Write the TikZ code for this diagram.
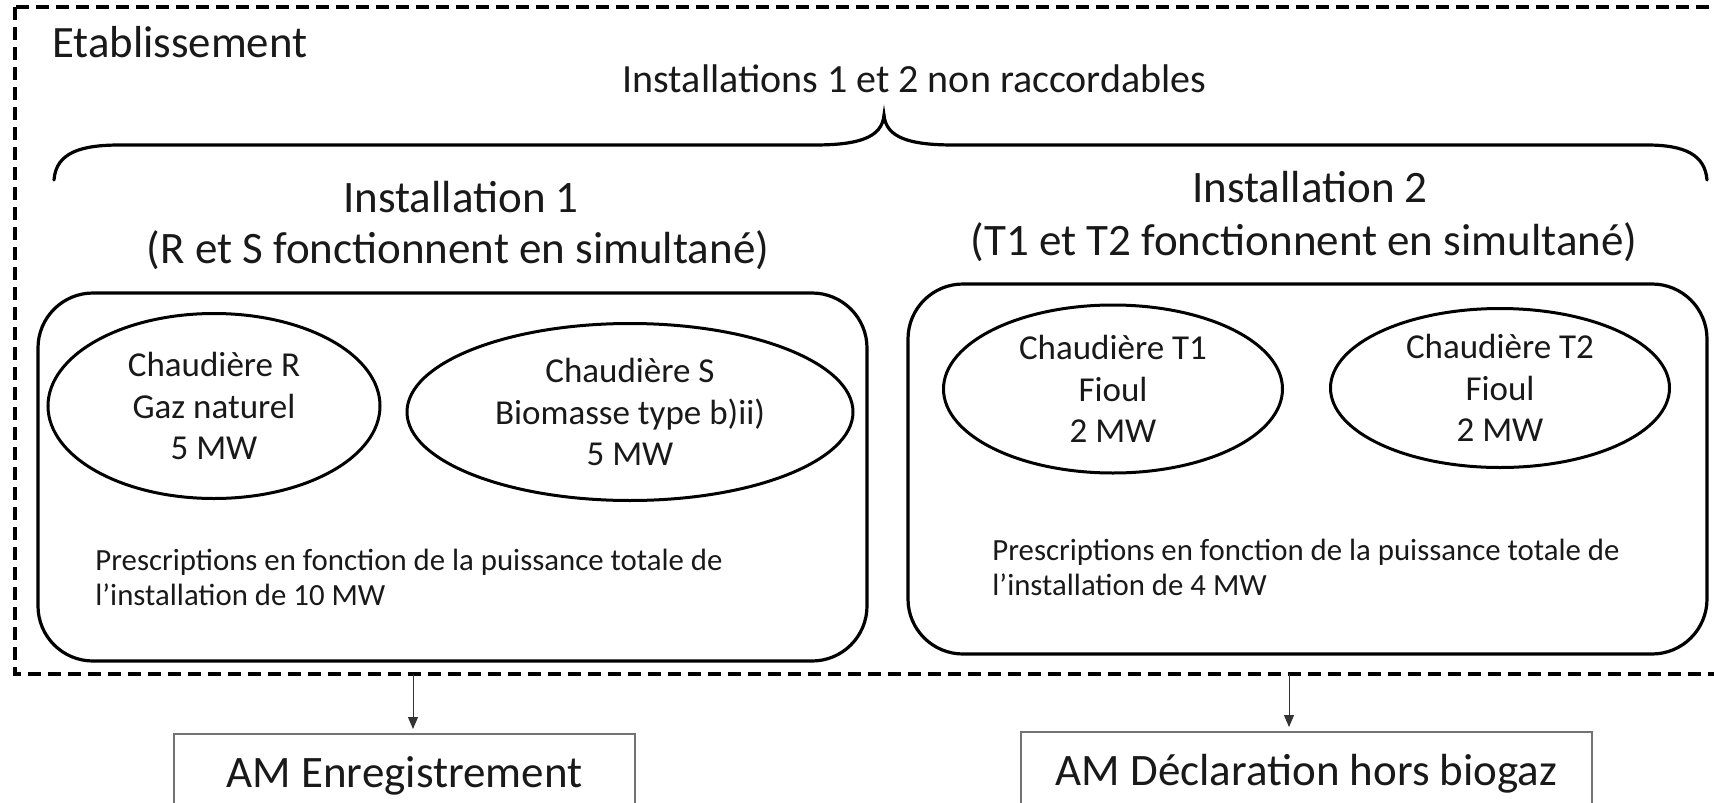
\documentclass[tikz,border=0pt]{standalone}
\usepackage{fontspec}
\setmainfont{Carlito}
\usetikzlibrary{arrows.meta,shapes.geometric}
\begin{document}
\begin{tikzpicture}[x=0.5pt,y=-0.5pt,
  txt/.style={inner sep=0pt, text=black!90},
  bigtxt/.style={txt, anchor=base, font=\fontsize{22.5pt}{27pt}\selectfont},
  titletxt/.style={txt, anchor=base, font=\fontsize{20pt}{24pt}\selectfont},
  presc/.style={txt, anchor=base west, font=\fontsize{15.4pt}{18pt}\selectfont},
  instbox/.style={draw, line width=1.6pt, rounded corners=27.5pt, inner sep=0pt},
  boiler/.style={draw, ellipse, line width=1.5pt, inner sep=0pt, align=center, text=black!90,
    font=\fontsize{17.5pt}{20.75pt}\selectfont},
  ambox/.style={draw=black!55, line width=0.75pt, anchor=north, inner sep=0pt, text=black!90,
    text height=27pt, text depth=30pt, font=\fontsize{22.5pt}{27pt}\selectfont},
  borderline/.style={line width=1.6pt, dash pattern=on 6.5pt off 3.5pt},
  bracestyle/.style={line width=1.6pt, line cap=round},
  arr/.style={draw=black!80, line width=0.5pt, -{Triangle[length=6pt,width=5pt]}, shorten >=2pt}
]
\clip (0,0) rectangle (1714,803);
\fill[white] (0,0) rectangle (1714,803);

% establishment border
\draw[borderline] (15,7) rectangle (1745,674);
\node[txt, anchor=base west, font=\fontsize{22.4pt}{26pt}\selectfont] (etab) at (52,57) {Etablissement};

% title and brace
\node[titletxt] (title) at (914.5,92) {Installations 1 et 2 non raccordables};
\coordinate (bl) at (54,180);
\coordinate (btip) at (884,115);
\coordinate (br) at (1707,180);
\draw[bracestyle] (bl) .. controls (56,152) and (82,145) .. (120,145) -- (814,145)
  .. controls (858,145) and (882,138) .. (btip)
  .. controls (886,138) and (910,145) .. (954,145) -- (1647,145)
  .. controls (1685,145) and (1705,155) .. (br);

% installation headings
\node[bigtxt] (i1a) at (461,212) {Installation 1};
\node[bigtxt] (i1b) at (458,263) {(R et S fonctionnent en simultané)};
\node[bigtxt] (i2a) at (1310,202) {Installation 2};
\node[bigtxt] (i2b) at (1304,255) {(T1 et T2 fonctionnent en simultané)};

% installation boxes
\node[instbox, minimum width=414.5pt, minimum height=184pt] (box1) at (452.5,477) {};
\node[instbox, minimum width=399.5pt, minimum height=185pt] (box2) at (1307.5,469) {};

% boilers
\node[boiler, minimum width=166pt, minimum height=92.5pt] (R) at (214,406) {Chaudière R\\Gaz naturel\\5 MW};
\node[boiler, minimum width=223pt, minimum height=88.5pt] (S) at (630,412) {Chaudière S\\Biomasse type b)ii)\\5 MW};
\node[boiler, minimum width=169.5pt, minimum height=84pt] (T1) at (1113,389) {Chaudière T1\\Fioul\\2 MW};
\node[boiler, minimum width=169.5pt, minimum height=79.5pt] (T2) at (1500,388) {Chaudière T2\\Fioul\\2 MW};

% prescriptions
\node[presc] (p1a) at (95,570) {Prescriptions en fonction de la puissance totale de};
\node[presc] (p1b) at (95,605) {l’installation de 10 MW};
\node[presc] (p2a) at (992,560) {Prescriptions en fonction de la puissance totale de};
\node[presc] (p2b) at (992,595) {l’installation de 4 MW};

% regulation boxes
\node[ambox, minimum width=230.5pt] (amA) at (404.5,733) {AM Enregistrement};
\node[ambox, minimum width=285.5pt] (amB) at (1306.5,731) {AM Déclaration hors biogaz};

% arrows
\coordinate (d1) at (413,674);
\coordinate (d2) at (1289,674);
\draw[arr] (d1) -- (d1 |- amA.north);
\draw[arr] (d2) -- (d2 |- amB.north);
\end{tikzpicture}
\end{document}
